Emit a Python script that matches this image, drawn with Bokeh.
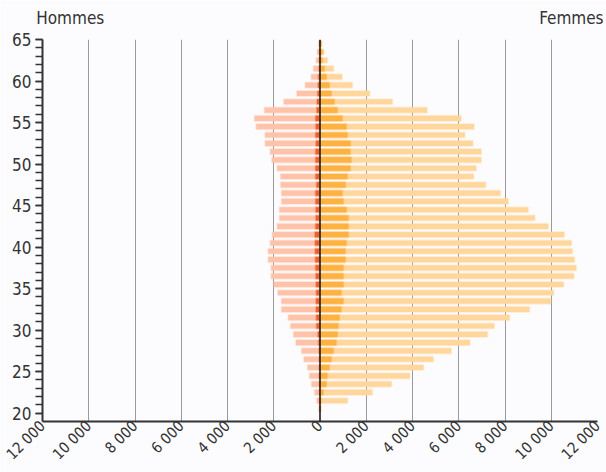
import math
from bokeh.plotting import figure
from bokeh.models import ColumnDataSource, FixedTicker, Span, LinearAxis
from bokeh.embed import file_html
from bokeh.resources import INLINE

# ---- data -------------------------------------------------------------
ages = list(range(20, 65))

men_total = [50, 140, 230, 360, 450, 535, 695, 795, 1040, 1140,
             1270, 1370, 1660, 1660, 1820, 2000, 2110, 2110, 2240, 2240,
             2150, 2065, 1850, 1750, 1750, 1660, 1660, 1700, 1700, 1850,
             2080, 2150, 2370, 2370, 2755, 2830, 2400, 1560, 1000, 635,
             375, 275, 160, 115, 50]

men_part = [0, 10, 20, 20, 30, 30, 30, 40, 60, 90,
            150, 160, 170, 170, 160, 170, 180, 190, 200, 210,
            210, 220, 190, 180, 180, 190, 190, 150, 190, 190,
            190, 190, 170, 190, 180, 190, 140, 130, 100, 80,
            60, 40, 30, 20, 10]

women_total = [30, 1190, 2260, 3090, 3880, 4470, 4900, 5670, 6480, 7240,
               7530, 8190, 9060, 9970, 10100, 10530, 10970, 11080, 11000, 10910,
               10870, 10560, 9870, 9290, 9000, 8140, 7800, 7160, 6640, 6750,
               6970, 6970, 6610, 6260, 6660, 6100, 4630, 3130, 2150, 1400,
               950, 580, 320, 170, 90]

women_part = [20, 40, 140, 270, 315, 400, 490, 575, 705, 750,
              790, 840, 920, 1010, 920, 1010, 1010, 1010, 1095, 1095,
              1140, 1225, 1225, 1225, 1140, 1010, 965, 1095, 1180, 1310,
              1355, 1310, 1310, 1180, 1140, 965, 750, 620, 490, 405,
              275, 190, 100, 100, 40]

x_ticks = [-12000, -10000, -8000, -6000, -4000, -2000, 0,
           2000, 4000, 6000, 8000, 10000, 12000]
x_tick_labels = ["12 000", "10 000", "8 000", "6 000", "4 000", "2 000", "0",
                 "2 000", "4 000", "6 000", "8 000", "10 000", "12 000"]
y_major = [20, 25, 30, 35, 40, 45, 50, 55, 60, 65]
y_minor = list(range(20, 66))

side_titles = ["Hommes", "Femmes"]
side_title_pos = [-10800, 10870]

# ---- styling ----------------------------------------------------------
FONT = "DejaVu Sans Condensed, Roboto"
TXT = "#333333"
BG = "#FCFCFE"
C_MEN_LIGHT = "#FFC3AA"
C_MEN_DARK = "#F0602A"
C_WOM_LIGHT = "#FFD69C"
C_WOM_DARK = "#FFB240"

src = ColumnDataSource(dict(
    y=[a + 0.5 for a in ages],
    men_total=[-v for v in men_total],
    men_part=[-v for v in men_part],
    women_total=women_total,
    women_part=women_part,
))

p = figure(width=606, height=472, x_range=(-12000, 12000), y_range=(19, 65),
           toolbar_location=None, output_backend="svg",
           min_border_left=42, min_border_right=9,
           min_border_top=39, min_border_bottom=50)
p.background_fill_color = BG
p.border_fill_color = BG
p.outline_line_color = None

H = 0.62
common = dict(height=H, line_width=2, line_alpha=0.35)
p.hbar(y="y", left="men_total", right=0, source=src,
       fill_color=C_MEN_LIGHT, line_color=C_MEN_LIGHT, **common)
p.hbar(y="y", left="men_part", right=0, source=src,
       fill_color=C_MEN_DARK, line_color=C_MEN_DARK, **common)
p.hbar(y="y", left=0, right="women_total", source=src,
       fill_color=C_WOM_LIGHT, line_color=C_WOM_LIGHT, **common)
p.hbar(y="y", left=0, right="women_part", source=src,
       fill_color=C_WOM_DARK, line_color=C_WOM_DARK, **common)

p.add_layout(Span(location=0, dimension="height",
                  line_color="#111111", line_width=1.5))

# grid
p.ygrid.visible = False
p.xgrid.ticker = FixedTicker(ticks=[t for t in x_ticks if t != 0])
p.xgrid.grid_line_color = "#9A9A9A"
p.xgrid.grid_line_width = 1

# x axis
xa = p.xaxis[0]
xa.ticker = FixedTicker(ticks=x_ticks)
xa.major_label_overrides = {t: s for t, s in zip(x_ticks, x_tick_labels)}
xa.major_label_orientation = math.pi / 4
xa.major_tick_out = 0
xa.major_tick_in = 0
xa.minor_tick_out = 0
xa.minor_tick_in = 0
xa.axis_line_color = "#333333"
xa.axis_line_width = 2
xa.major_label_text_font = FONT
xa.major_label_text_font_size = "15px"
xa.major_label_text_color = TXT
xa.major_label_standoff = 2

# y axis
ya = p.yaxis[0]
ya.ticker = FixedTicker(ticks=y_major, minor_ticks=y_minor)
ya.major_tick_out = 7
ya.major_tick_in = 0
ya.minor_tick_out = 7
ya.minor_tick_in = 0
ya.major_tick_line_color = "#333333"
ya.minor_tick_line_color = "#333333"
ya.major_tick_line_width = 1.5
ya.minor_tick_line_width = 1.5
ya.axis_line_color = "#333333"
ya.axis_line_width = 2
ya.major_label_text_font = FONT
ya.major_label_text_font_size = "17px"
ya.major_label_text_color = TXT
ya.major_label_standoff = 4

# side titles as a label-only axis above the frame
ta = LinearAxis(ticker=FixedTicker(ticks=side_title_pos, minor_ticks=[]))
ta.major_label_overrides = {t: s for t, s in zip(side_title_pos, side_titles)}
ta.axis_line_color = None
ta.major_tick_out = 0
ta.major_tick_in = 0
ta.minor_tick_out = 0
ta.minor_tick_in = 0
ta.major_label_text_font = FONT
ta.major_label_text_font_size = "17px"
ta.major_label_text_color = TXT
ta.major_label_standoff = 12
p.add_layout(ta, "above")

open("out.html", "w").write(file_html(p, INLINE))
